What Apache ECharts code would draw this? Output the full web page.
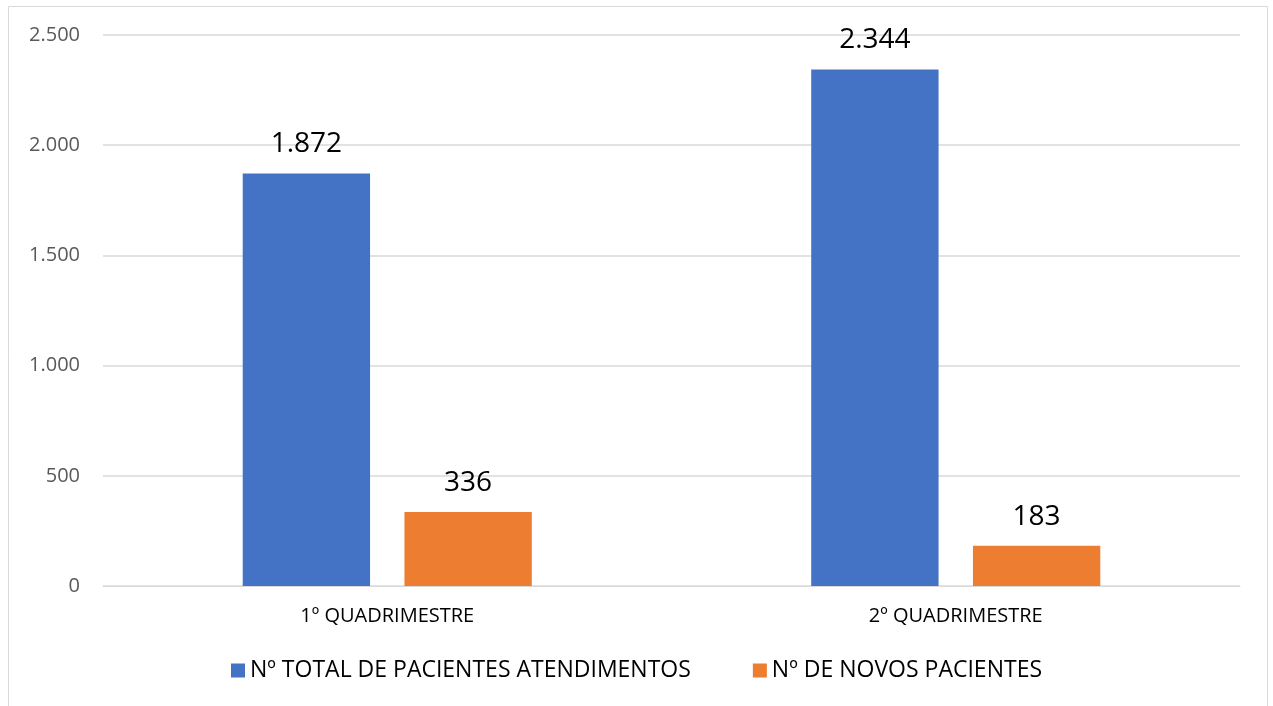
<!DOCTYPE html>
<html>
<head>
<meta charset="utf-8">
<script src="https://cdn.jsdelivr.net/npm/echarts@6/dist/echarts.min.js"></script>
<style>
  html, body { margin: 0; padding: 0; background: #fff; }
  #main { width: 1273px; height: 706px; }
</style>
</head>
<body>
<div id="main"></div>
<script>
// dados do gráfico
var categorias = ['1º QUADRIMESTRE', '2º QUADRIMESTRE'];
var nomesSeries = ['Nº TOTAL DE PACIENTES ATENDIMENTOS', 'Nº DE NOVOS PACIENTES'];
var totalPacientes = [1872, 2344];
var novosPacientes = [336, 183];
var coresSeries = ['#4472C4', '#ED7D31'];

// formata com ponto como separador de milhar
function fmt(v) {
    return String(v).replace(/\B(?=(\d{3})+(?!\d))/g, '.');
}

var myChart = echarts.init(document.getElementById('main'));

var fonte = '"Open Sans", "Liberation Sans", sans-serif';

var option = {
    animation: false,
    textStyle: { fontFamily: fonte },
    graphic: [{
        type: 'rect',
        shape: { x: 8.5, y: 6.5, width: 1259, height: 730 },
        style: { fill: 'none', stroke: '#d9d9d9', lineWidth: 1 },
        silent: true
    }],
    grid: {
        left: 103,
        right: 33,
        top: 35,
        bottom: 120,
        containLabel: false
    },
    legend: {
        data: nomesSeries,
        bottom: 19,
        left: 'center',
        itemWidth: 14,
        itemHeight: 14,
        itemGap: 62,
        icon: 'rect',
        textStyle: { fontSize: 23, color: '#000', fontFamily: fonte }
    },
    xAxis: {
        type: 'category',
        data: categorias,
        axisLine: { lineStyle: { color: '#d9d9d9' } },
        axisTick: { show: false },
        axisLabel: { fontSize: 20, color: '#000', margin: 20, fontFamily: fonte }
    },
    yAxis: {
        type: 'value',
        min: 0,
        max: 2500,
        interval: 500,
        axisLine: { show: false },
        axisTick: { show: false },
        splitLine: { lineStyle: { color: '#d9d9d9', width: 1.5 } },
        axisLabel: {
            fontSize: 20,
            color: '#595959',
            margin: 23,
            fontFamily: fonte,
            formatter: function (v) { return fmt(v); }
        }
    },
    series: [
        {
            name: nomesSeries[0],
            type: 'bar',
            data: totalPacientes,
            barWidth: '22.4%',
            barGap: '27%',
            itemStyle: { color: coresSeries[0] },
            label: {
                show: true,
                position: 'top',
                distance: 15,
                fontSize: 28,
                color: '#000',
                fontFamily: fonte,
                formatter: function (p) { return fmt(p.value); }
            }
        },
        {
            name: nomesSeries[1],
            type: 'bar',
            data: novosPacientes,
            barWidth: '22.4%',
            itemStyle: { color: coresSeries[1] },
            label: {
                show: true,
                position: 'top',
                distance: 15,
                fontSize: 28,
                color: '#000',
                fontFamily: fonte,
                formatter: function (p) { return fmt(p.value); }
            }
        }
    ]
};

myChart.setOption(option);
</script>
</body>
</html>
